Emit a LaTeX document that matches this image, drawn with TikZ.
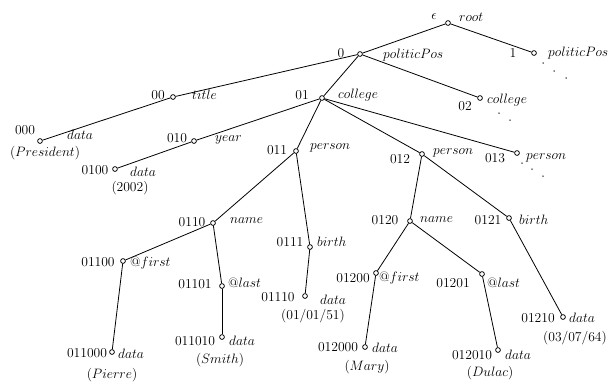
\RequirePackage{fix-cm}
\documentclass[tikz,border=0pt]{standalone}
\begin{document}
\begin{tikzpicture}[x=1pt,y=-1pt,
  every node/.style={font=\fontsize{13.6}{16}\selectfont, inner sep=0pt},
  vtx/.style={circle, draw, line width=0.75pt, minimum size=4.8pt, inner sep=0pt},
  edge/.style={line width=0.8pt},
  num/.style={anchor=center},
  tag/.style={anchor=west},
  val/.style={anchor=center},
  dotmark/.style={circle, fill, minimum size=1.5pt, inner sep=0pt}]
\useasboundingbox (0,0) rectangle (613,384);

% tree vertices
\node[vtx] (r)      at (448,23)  {};
\node[vtx] (n0)     at (360,54)  {};
\node[vtx] (n1)     at (534,53)  {};
\node[vtx] (n00)    at (173,97)  {};
\node[vtx] (n01)    at (322,98)  {};
\node[vtx] (n02)    at (480,98)  {};
\node[vtx] (n000)   at (40,141)  {};
\node[vtx] (n010)   at (194,141) {};
\node[vtx] (n011)   at (296,151) {};
\node[vtx] (n012)   at (422,154) {};
\node[vtx] (n013)   at (517,153) {};
\node[vtx] (n0100)  at (115,169) {};
\node[vtx] (n0110)  at (213,223) {};
\node[vtx] (n0111)  at (310,247) {};
\node[vtx] (n0120)  at (410,221) {};
\node[vtx] (n0121)  at (509,218) {};
\node[vtx] (n01100) at (123,261) {};
\node[vtx] (n01101) at (222,286) {};
\node[vtx] (n01110) at (305,296) {};
\node[vtx] (n01200) at (376,273) {};
\node[vtx] (n01201) at (482,274) {};
\node[vtx] (n01210) at (563,317) {};
\node[vtx] (n011000) at (112,352) {};
\node[vtx] (n011010) at (222,337) {};
\node[vtx] (n012000) at (365,347) {};
\node[vtx] (n012010) at (498,350) {};

% edges
\draw[edge] (r) -- (n0);
\draw[edge] (r) -- (n1);
\draw[edge] (n0) -- (n00);
\draw[edge] (n0) -- (n01);
\draw[edge] (n0) -- (n02);
\draw[edge] (n00) -- (n000);
\draw[edge] (n01) -- (n010);
\draw[edge] (n01) -- (n011);
\draw[edge] (n01) -- (n012);
\draw[edge] (n01) -- (n013);
\draw[edge] (n010) -- (n0100);
\draw[edge] (n011) -- (n0110);
\draw[edge] (n011) -- (n0111);
\draw[edge] (n012) -- (n0120);
\draw[edge] (n012) -- (n0121);
\draw[edge] (n0110) -- (n01100);
\draw[edge] (n0110) -- (n01101);
\draw[edge] (n0111) -- (n01110);
\draw[edge] (n0120) -- (n01200);
\draw[edge] (n0120) -- (n01201);
\draw[edge] (n0121) -- (n01210);
\draw[edge] (n01100) -- (n011000);
\draw[edge] (n01101) -- (n011010);
\draw[edge] (n01200) -- (n012000);
\draw[edge] (n01201) -- (n012010);

% Dewey numbers
\node[num] (lr)      at (434,17)  {$\epsilon$};
\node[num] (l0)      at (341,53)  {0};
\node[num] (l1)      at (513,53)  {1};
\node[num] (l00)     at (158,95)  {00};
\node[num] (l01)     at (302,95)  {01};
\node[num] (l02)     at (465,106) {02};
\node[num] (l000)    at (25,130)  {000};
\node[num] (l010)    at (177,138) {010};
\node[num] (l011)    at (277,150) {011};
\node[num] (l012)    at (400,159) {012};
\node[num] (l013)    at (495,158) {013};
\node[num] (l0100)   at (95,170)  {0100};
\node[num] (l0110)   at (192,222) {0110};
\node[num] (l0111)   at (290,242) {0111};
\node[num] (l0120)   at (385,220) {0120};
\node[num] (l0121)   at (488,220) {0121};
\node[num] (l01100)  at (98,262)  {01100};
\node[num] (l01101)  at (195,284) {01101};
\node[num] (l01110)  at (278,297) {01110};
\node[num] (l01200)  at (353,278) {01200};
\node[num] (l01201)  at (453,283) {01201};
\node[num] (l01210)  at (538,318) {01210};
\node[num] (l011000) at (87,353)  {011000};
\node[num] (l011010) at (195,341) {011010};
\node[num] (l012000) at (338,347) {012000};
\node[num] (l012010) at (472,355) {012010};

% element tags
\node[tag] (tr)      at (459,17)  {$root$};
\node[tag] (t0)      at (383,55)  {$politicPos$};
\node[tag] (t1)      at (548,53)  {$politicPos$};
\node[tag] (t00)     at (192,95)  {$title$};
\node[tag] (t01)     at (338,95)  {$college$};
\node[tag] (t02)     at (487,100) {$college$};
\node[tag] (t000)    at (67,135)  {$data$};
\node[tag] (t010)    at (215,140) {$year$};
\node[tag] (t011)    at (310,148) {$person$};
\node[tag] (t012)    at (433,153) {$person$};
\node[tag] (t013)    at (526,158) {$person$};
\node[tag] (t0100)   at (130,172) {$data$};
\node[tag] (t0110)   at (230,221) {$name$};
\node[tag] (t0111)   at (317,242) {$birth$};
\node[tag] (t0120)   at (420,220) {$name$};
\node[tag] (t0121)   at (519,220) {$birth$};
\node[tag] (t01100)  at (130,263) {$@first$};
\node[tag] (t01101)  at (228,283) {$@last$};
\node[tag] (t01110)  at (320,300) {$data$};
\node[tag] (t01200)  at (379,278) {$@first$};
\node[tag] (t01201)  at (487,283) {$@last$};
\node[tag] (t01210)  at (569,318) {$data$};
\node[tag] (t011000) at (118,354) {$data$};
\node[tag] (t011010) at (229,341) {$data$};
\node[tag] (t012000) at (372,348) {$data$};
\node[tag] (t012010) at (505,355) {$data$};

% text values
\node[val] (v000)    at (45,153)  {$(President)$};
\node[val] (v0100)   at (130,188) {$(2002)$};
\node[val] (v01110)  at (313,316) {$(01/01/51)$};
\node[val] (v011000) at (112,375) {$(Pierre)$};
\node[val] (v011010) at (220,360) {$(Smith)$};
\node[val] (v012000) at (367,367) {$(Mary)$};
\node[val] (v012010) at (490,373) {$(Dulac)$};
\node[val] (v01210)  at (575,338) {$(03/07/64)$};

% elided subtrees
\node[dotmark] (d1a) at (543,63) {};
\node[dotmark] (d1b) at (554,71) {};
\node[dotmark] (d1c) at (566,78) {};
\node[dotmark] (d2a) at (499,113) {};
\node[dotmark] (d2b) at (510,120) {};
\node[dotmark] (d3a) at (522,163) {};
\node[dotmark] (d3b) at (532,169) {};
\node[dotmark] (d3c) at (543,176) {};
\end{tikzpicture}
\end{document}
